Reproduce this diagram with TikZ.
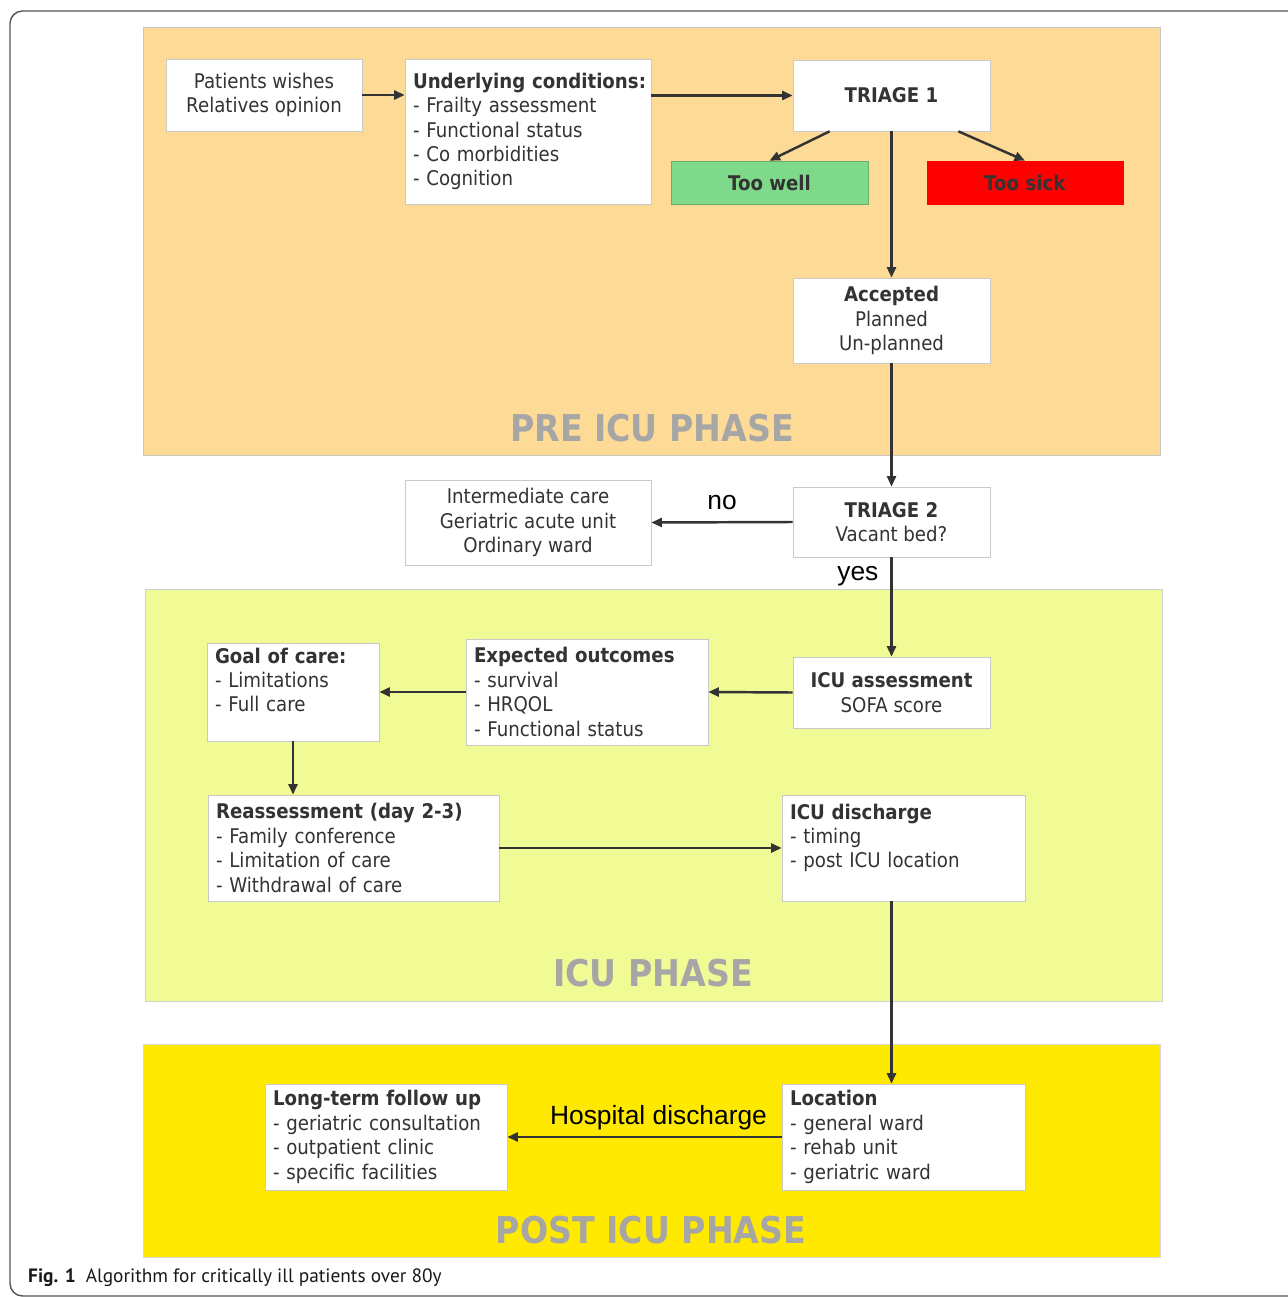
\documentclass[tikz,border=0pt]{standalone}
\usepackage{fontspec}
\usetikzlibrary{arrows.meta}
\newfontfamily\boxfont{DejaVu Sans}[FakeStretch=0.9]
\newfontfamily\arialfont{Liberation Sans}
\newfontfamily\capfont{PT Sans}
\definecolor{preicu}{HTML}{FDDB97}
\definecolor{icu}{HTML}{F1FB95}
\definecolor{posticu}{HTML}{FFE900}
\definecolor{toowell}{HTML}{7ED98A}
\definecolor{toosick}{HTML}{FF0000}
\definecolor{phasegrey}{HTML}{A6A6A6}
\definecolor{txt}{HTML}{333333}
\definecolor{boxline}{HTML}{C9C9C9}
\definecolor{framecol}{HTML}{555555}

\begin{document}
\begin{tikzpicture}[x=0.02cm,y=-0.02cm,
  box/.style={draw=boxline,fill=white,inner xsep=0.16cm,inner ysep=0.06cm,text=txt,font=\fontsize{11.5}{13.9}\boxfont},
  lbox/.style={box,align=left},
  cbox/.style={box,align=center},
  arr/.style={-{Triangle[length=0.21cm,width=0.18cm]},line width=1.4pt,draw=txt},
  phase/.style={text=phasegrey,font=\fontsize{21}{25}\boxfont\bfseries},
  lbl/.style={text=black,font=\fontsize{15}{18}\arialfont}]
\useasboundingbox (0,0) rectangle (1287,1297);
\draw[framecol,line width=0.8pt,rounded corners=0.25cm] (1300,11) -- (10,11) -- (10,1296) -- (1300,1296);

\filldraw[fill=preicu,draw=black!22] (143,27) rectangle (1160,455);
\filldraw[fill=icu,draw=black!18] (145,589) rectangle (1162,1001);
\filldraw[fill=posticu,draw=black!15] (143,1044) rectangle (1160,1257);

\node[phase] (prelab) at (652,428) {PRE ICU PHASE};
\node[phase] (iculab) at (653,973) {ICU PHASE};
\node[phase] (postlab) at (651,1230) {POST ICU PHASE};

\node[cbox,minimum width=3.92cm,minimum height=1.44cm] (pw) at (264,95) {Patients wishes\\Relatives opinion};
\node[lbox,text width=4.6cm,minimum height=2.9cm] (uc) at (528,131.5) {\mbox{\textbf{Underlying conditions:}}\\- Frailty assessment\\- Functional status\\- Co morbidities\\- Cognition};
\node[cbox,minimum width=3.94cm,minimum height=1.42cm] (t1) at (891.5,95.5) {\textbf{TRIAGE 1}};
\node[cbox,fill=toowell,draw=toowell!80!black,minimum width=3.94cm,minimum height=0.86cm] (tw) at (769.5,182.5) {\textbf{Too well}};
\node[cbox,fill=toosick,draw=toosick,minimum width=3.92cm,minimum height=0.86cm] (ts) at (1025,182.5) {\textbf{Too sick}};
\node[cbox,minimum width=3.94cm,minimum height=1.7cm] (acc) at (891.5,320.5) {\textbf{Accepted}\\Planned\\Un-planned};
\node[cbox,minimum width=3.94cm,minimum height=1.4cm] (t2) at (891.5,522) {\textbf{TRIAGE 2}\\Vacant bed?};
\node[cbox,minimum width=4.92cm,minimum height=1.7cm] (inter) at (528,522.5) {Intermediate care\\Geriatric acute unit\\Ordinary ward};
\node[cbox,minimum width=3.94cm,minimum height=1.42cm] (icua) at (891.5,692.5) {\textbf{ICU assessment}\\SOFA score};
\node[lbox,text width=4.52cm,minimum height=2.12cm] (exp) at (587,692) {\textbf{Expected outcomes}\\- survival\\- HRQOL\\- Functional status};
\node[lbox,text width=3.12cm,minimum height=1.96cm] (goal) at (293,692) {\textbf{Goal of care:}\\- Limitations\\- Full care\\ ~};
\node[lbox,text width=5.5cm,minimum height=2.12cm] (reas) at (353.5,848) {\mbox{\textbf{Reassessment (day 2-3)}}\\- Family conference\\- Limitation of care\\- Withdrawal of care};
\node[lbox,text width=4.54cm,minimum height=2.12cm] (disc) at (903.5,848) {\textbf{ICU discharge}\\- timing\\- post ICU location\\ ~};
\node[lbox,text width=4.54cm,minimum height=2.12cm] (loc) at (903.5,1137) {\textbf{Location}\\- general ward\\- rehab unit\\- geriatric ward};
\node[lbox,text width=4.52cm,minimum height=2.12cm] (ltf) at (386,1137) {\mbox{\textbf{Long-term follow up}}\\- geriatric consultation\\- outpatient clinic\\- specific facilities};

\draw[arr] (pw.east) -- (pw.east -| uc.west);
\draw[arr] (uc.east |- t1.west) -- (t1.west);
\draw[arr] ([xshift=0.74cm]t1.south west) -- (tw.north);
\draw[arr] ([xshift=-0.64cm]t1.south east) -- (ts.north);
\draw[arr] (t1.south) -- (acc.north);
\draw[arr] (acc.south) -- (t2.north);
\draw[arr] (t2.west) -- node[lbl,midway,above=0.1cm] (no) {no} (inter.east);
\draw[arr] (t2.south) -- node[lbl,pos=0.19,left=0.12cm] (yes) {yes} (icua.north);
\draw[arr] (icua.west) -- (exp.east);
\draw[arr] (exp.west) -- (goal.east);
\draw[arr] (goal.south) -- (goal.south |- reas.north);
\draw[arr] (reas.east) -- (disc.west);
\draw[arr] (disc.south -| icua.south) -- (loc.north -| icua.south);
\draw[arr] (loc.west) -- node[lbl,midway,above=0.0cm,xshift=0.28cm] (hd) {Hospital discharge} (ltf.east);

\node[anchor=west,text=black!90,font=\fontsize{11}{13}\capfont] (cap) at (22,1278) {\textbf{Fig. 1}\hspace{0.2cm}Algorithm for critically ill patients over 80y};
\end{tikzpicture}
\end{document}
